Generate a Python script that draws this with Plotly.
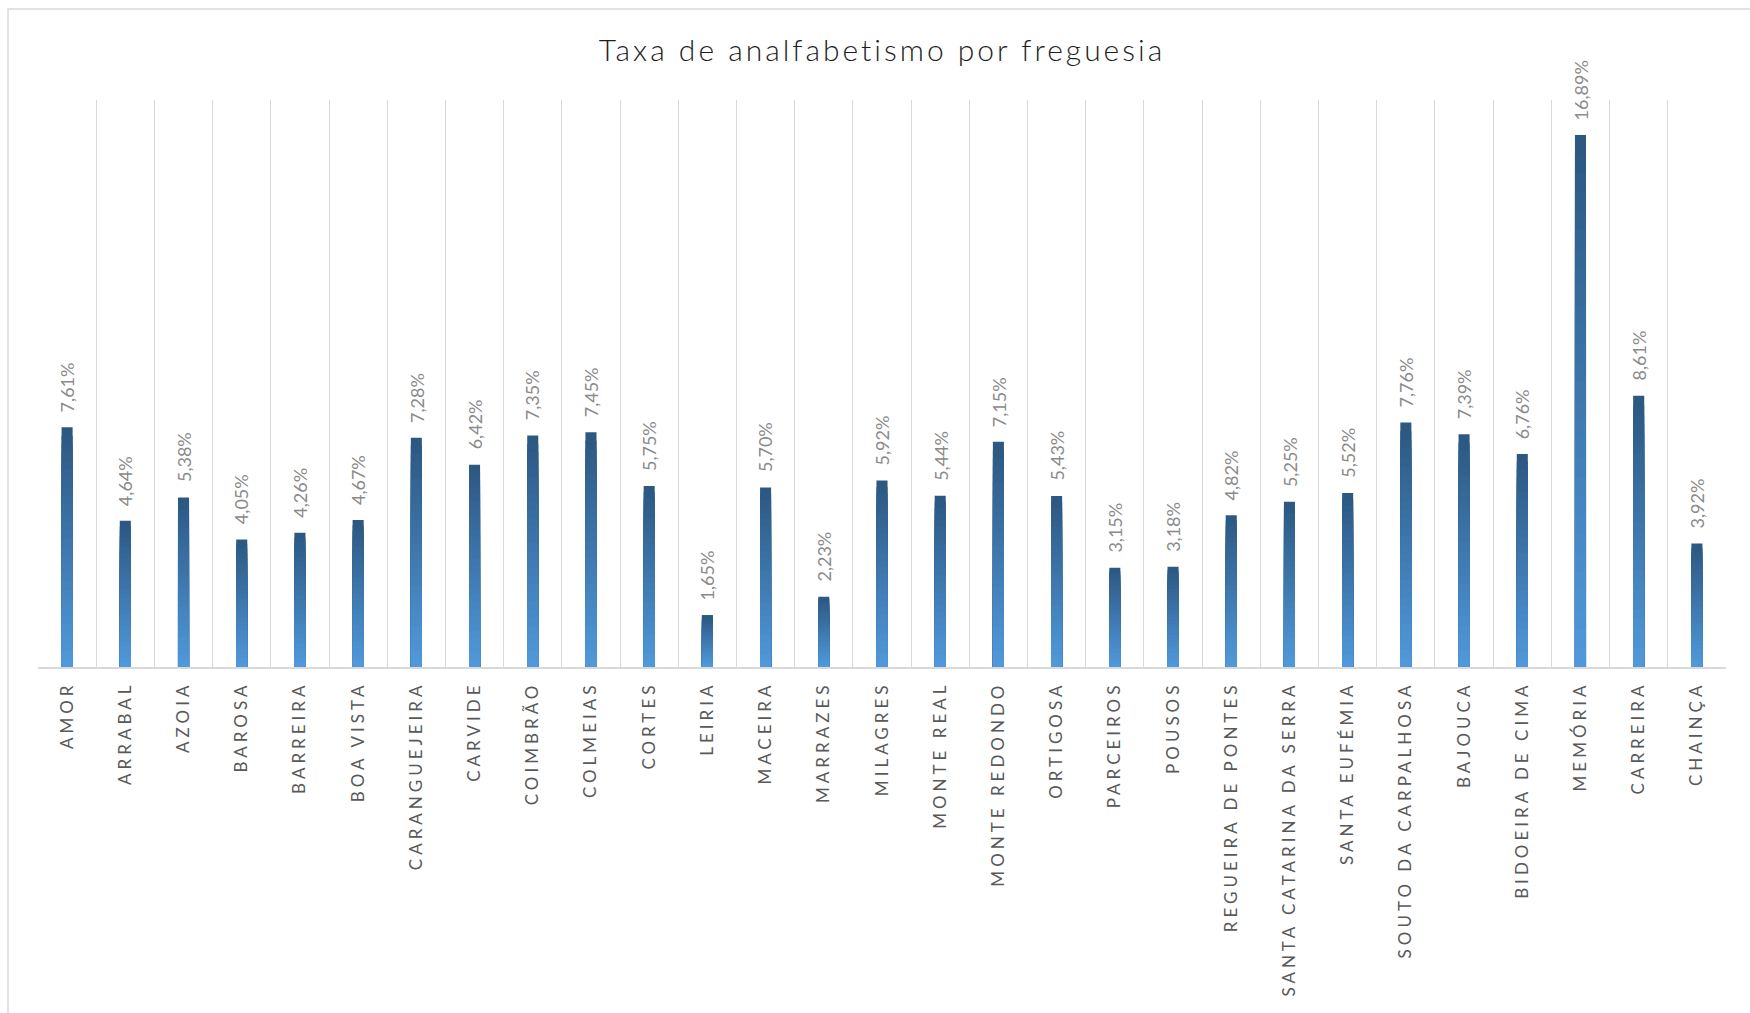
import plotly.graph_objects as go

# ---- data ----
freguesias = [
    "AMOR", "ARRABAL", "AZOIA", "BAROSA", "BARREIRA", "BOA VISTA", "CARANGUEJEIRA",
    "CARVIDE", "COIMBRÃO", "COLMEIAS", "CORTES", "LEIRIA", "MACEIRA", "MARRAZES",
    "MILAGRES", "MONTE REAL", "MONTE REDONDO", "ORTIGOSA", "PARCEIROS", "POUSOS",
    "REGUEIRA DE PONTES", "SANTA CATARINA DA SERRA", "SANTA EUFÉMIA",
    "SOUTO DA CARPALHOSA", "BAJOUCA", "BIDOEIRA DE CIMA", "MEMÓRIA", "CARREIRA", "CHAINÇA",
]
taxa = [
    7.61, 4.64, 5.38, 4.05, 4.26, 4.67, 7.28,
    6.42, 7.35, 7.45, 5.75, 1.65, 5.70, 2.23,
    5.92, 5.44, 7.15, 5.43, 3.15, 3.18,
    4.82, 5.25, 5.52,
    7.76, 7.39, 6.76, 16.89, 8.61, 3.92,
]
title_text = "Taxa de analfabetismo por freguesia"

labels = [f"{v:.2f}".replace(".", ",") + "%" for v in taxa]

# ---- layout geometry (pixels) ----
W, H = 1750, 1013
L, R, T, B = 38, 24, 100, 346
pw, ph = W - L - R, H - T - B

top_col = (44, 88, 130)
bot_col = (80, 152, 218)
N = 28

fig = go.Figure()
# gradient bars: overlay of shrinking bars, darkest (full height) first
for k in range(N):
    f = k / (N - 1)
    c = tuple(round(top_col[j] + (bot_col[j] - top_col[j]) * f) for j in range(3))
    frac = (N - k) / N
    fig.add_trace(go.Bar(
        x=freguesias,
        y=[v * frac for v in taxa],
        width=0.19,
        marker=dict(color=f"rgb{c}", line=dict(width=0)),
        hoverinfo="skip",
        showlegend=False,
    ))

annotations = []
for cat, v, lab in zip(freguesias, taxa, labels):
    annotations.append(dict(
        x=cat, y=v, xref="x", yref="y", text=lab, textangle=-90,
        showarrow=False, xanchor="center", yanchor="bottom", yshift=13,
        font=dict(family="Lato, Open Sans, sans-serif", size=18, color="#8a8a8a"),
    ))

shapes = [dict(
    type="rect", xref="paper", yref="paper",
    x0=(8 - L) / pw, x1=(W + 4 - L) / pw,
    y0=-(B + 10) / ph, y1=1 + (T - 9) / ph,
    line=dict(color="#D9D9D9", width=1.5), fillcolor="rgba(0,0,0,0)", layer="below",
)]

fig.update_layout(
    width=W, height=H,
    margin=dict(l=L, r=R, t=T, b=B, pad=0),
    paper_bgcolor="white", plot_bgcolor="white",
    barmode="overlay",
    title=dict(
        text=title_text, x=0.5, xanchor="center", xref="paper",
        y=1 - 50 / H, yref="container", yanchor="middle",
        font=dict(family="Lato, Open Sans, sans-serif", size=30, color="#1e1e1e", weight=300),
    ),
    xaxis=dict(
        type="category", range=[-0.5, len(freguesias) - 0.5],
        tickson="boundaries", ticks="", showgrid=True,
        gridcolor="#D9D9D9", gridwidth=1,
        showline=True, linecolor="#D9D9D9", linewidth=1.5,
        tickangle=-90, ticklabelstandoff=6,
        tickfont=dict(family="Lato, Open Sans, sans-serif", size=17, color="#595959"),
        fixedrange=True,
    ),
    yaxis=dict(
        range=[0, 18], visible=False, showgrid=False, zeroline=False, fixedrange=True,
    ),
    annotations=annotations,
    shapes=shapes,
)

post = """
document.body.style.margin = '0';
document.body.style.padding = '0';
var gd = document.getElementById('{plot_id}');
function sp(){
  gd.querySelectorAll('.xtick text').forEach(function(t){ t.style.letterSpacing = '4px'; });
  var tt = gd.querySelector('.gtitle');
  if (tt) { tt.style.letterSpacing = '3px'; }
}
sp();
gd.on('plotly_afterplot', sp);
"""

fig.write_html("out.html", post_script=post, config={"displayModeBar": False})
